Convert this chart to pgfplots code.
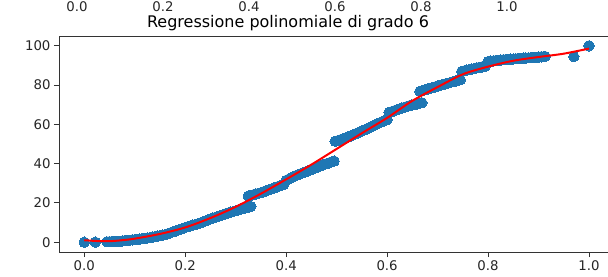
\documentclass[border=0pt]{standalone}
\usepackage{fontspec}
\setmainfont{DejaVu Sans}
\usepackage{pgfplots}
\usepackage{pgfplotstable}
\pgfplotsset{compat=1.18}
\definecolor{mplblue}{HTML}{1F77B4}

\pgfplotstableread{
x y
0.000 0.0
0.022 0.0
0.045 0.2
0.050 0.3
0.055 0.3
0.060 0.4
0.065 0.5
0.070 0.5
0.075 0.6
0.080 0.8
0.085 0.9
0.090 1.0
0.095 1.2
0.100 1.3
0.105 1.5
0.110 1.6
0.115 1.8
0.120 2.0
0.125 2.1
0.130 2.3
0.135 2.6
0.140 2.8
0.145 3.1
0.150 3.3
0.155 3.6
0.160 3.8
0.165 4.3
0.170 4.7
0.175 5.2
0.180 5.6
0.185 6.1
0.190 6.6
0.195 7.0
0.200 7.5
0.205 7.9
0.210 8.3
0.215 8.7
0.220 9.0
0.225 9.4
0.230 9.8
0.235 10.3
0.240 10.8
0.245 11.3
0.250 11.8
0.255 12.3
0.260 12.7
0.265 13.1
0.270 13.6
0.275 14.0
0.280 14.5
0.285 14.9
0.290 15.3
0.295 15.6
0.300 16.0
0.305 16.4
0.310 16.8
0.315 17.1
0.320 17.5
0.325 17.8
0.330 18.2
0.325 23.5
0.330 23.8
0.335 24.2
0.340 24.5
0.345 24.9
0.350 25.2
0.355 25.7
0.360 26.1
0.365 26.6
0.370 27.0
0.375 27.5
0.380 27.9
0.385 28.5
0.390 28.9
0.395 29.4
0.400 31.5
0.405 32.1
0.410 32.8
0.415 33.4
0.420 34.0
0.425 34.5
0.430 35.0
0.435 35.5
0.440 36.0
0.445 36.5
0.450 37.0
0.455 37.5
0.460 38.0
0.465 38.5
0.470 39.0
0.475 39.5
0.480 40.0
0.485 40.4
0.490 40.9
0.495 41.3
0.497 51.4
0.502 51.7
0.507 52.1
0.512 52.6
0.517 53.1
0.522 53.5
0.527 54.0
0.532 54.6
0.537 55.1
0.542 55.7
0.547 56.2
0.552 56.8
0.557 57.4
0.562 58.0
0.567 58.6
0.572 59.2
0.577 59.8
0.582 60.4
0.587 61.0
0.592 61.6
0.597 62.1
0.600 62.4
0.604 66.0
0.609 66.5
0.614 66.9
0.619 67.4
0.624 67.8
0.629 68.3
0.634 68.7
0.639 69.1
0.644 69.5
0.649 69.8
0.654 70.1
0.659 70.4
0.664 70.7
0.669 71.0
0.665 76.8
0.670 77.2
0.675 77.6
0.680 78.0
0.685 78.4
0.690 78.8
0.695 79.1
0.700 79.5
0.705 79.9
0.710 80.3
0.715 80.6
0.720 80.9
0.725 81.3
0.730 81.7
0.735 82.0
0.740 82.4
0.745 82.7
0.748 87.0
0.753 87.3
0.758 87.6
0.763 87.9
0.768 88.2
0.773 88.5
0.778 88.8
0.783 89.0
0.788 89.3
0.794 89.5
0.800 92.0
0.805 92.2
0.810 92.3
0.815 92.5
0.820 92.6
0.825 92.8
0.830 92.9
0.835 93.0
0.840 93.1
0.845 93.2
0.850 93.3
0.855 93.4
0.860 93.5
0.865 93.6
0.870 93.7
0.875 93.8
0.880 93.9
0.885 94.0
0.890 94.1
0.895 94.2
0.900 94.3
0.905 94.4
0.910 94.5
0.913 94.6
0.970 94.5
1.000 100.0
}\points

\pgfplotstableread{
x y
0.000 1.0
0.025 0.6
0.050 0.5
0.075 1.0
0.100 1.8
0.150 4.2
0.200 7.5
0.250 12.3
0.300 18.0
0.350 24.7
0.400 32.0
0.450 39.5
0.500 47.5
0.550 55.5
0.600 63.3
0.650 72.0
0.700 79.0
0.750 85.5
0.800 89.4
0.850 92.4
0.900 94.3
0.950 96.0
1.000 98.6
}\fit

\begin{document}
\begin{tikzpicture}
\path[use as bounding box] (0,0) rectangle (608pt,276pt);
\begin{axis}[
  at={(59pt,24pt)}, anchor=south west,
  scale only axis, width=549pt, height=216pt,
  xmin=-0.05, xmax=1.0376, ymin=-5, ymax=105,
  axis y line*=left,
  xtick pos=left,
  tick align=outside,
  major tick length=5pt,
  axis line style={black!80, line width=1pt},
  every tick/.style={black!80, line width=1pt},
  xtick={0,0.2,0.4,0.6,0.8,1.0},
  xticklabels={0.0,0.2,0.4,0.6,0.8,1.0},
  ytick={0,20,40,60,80,100},
  /pgf/number format/assume math mode=true,
  tick label style={font=\fontsize{13.3}{16}\selectfont, text=black!85},
  clip marker paths=true,
]
\addplot[only marks, color=mplblue, mark=*, mark size=5.2pt, mark options={draw=mplblue, fill=mplblue, line width=0pt}] table {\points};
\addplot[red, line width=2pt, smooth, tension=0.5, mark=none] table {\fit};
\end{axis}
\begin{scope}[every node/.style={anchor=base, font=\fontsize{13.3}{16}\selectfont, text=black!85, inner sep=0pt}]
\node at (77pt,264.3pt) {0.0};
\node at (163pt,264.3pt) {0.2};
\node at (249pt,264.3pt) {0.4};
\node at (335pt,264.3pt) {0.6};
\node at (421pt,264.3pt) {0.8};
\node at (507pt,264.3pt) {1.0};
\end{scope}
\node[anchor=base, font=\fontsize{16}{19}\selectfont, inner sep=0pt] at (288pt,248pt) {Regressione polinomiale di grado 6};
\end{tikzpicture}
\end{document}
